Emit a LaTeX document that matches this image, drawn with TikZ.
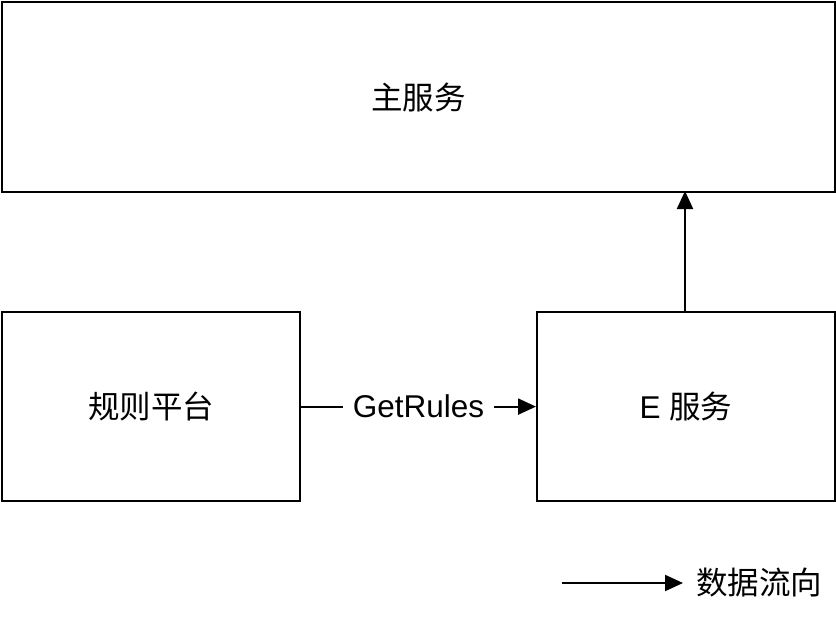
\documentclass[tikz,border=0pt]{standalone}
\usepackage{fontspec}
\setmainfont{Liberation Sans}
\newfontfamily\cjk{Noto Sans CJK SC}
\usetikzlibrary{arrows.meta}
\begin{document}
\begin{tikzpicture}[x=1pt,y=-1pt,
  box/.style={draw=black,line width=2.2pt,inner sep=0pt,anchor=north west},
  lbl/.style={font=\fontsize{31.5}{36}\selectfont},
  flow/.style={draw=black,line width=2.2pt,-{Triangle[length=18pt,width=16pt]}}]
\useasboundingbox (0,0) rectangle (836,618);
\node[box,minimum width=833pt,minimum height=190pt] (main) at (1,1) {};
\node[lbl] at (main.center) {\cjk 主服务};
\node[box,minimum width=298pt,minimum height=189pt] (rules) at (1,311) {};
\node[lbl] at (rules.center) {\cjk 规则平台};
\node[box,minimum width=298pt,minimum height=189pt] (esvc) at (536,311) {};
\node[lbl] at (esvc.center) {E {\cjk 服务}};
\coordinate (etop) at (685,311);
\coordinate (mbot) at (685,191);
\draw[flow] (etop) -- (mbot);
\draw[flow] (rules.east) -- node[lbl,fill=white,inner xsep=10pt,inner ysep=2pt] (gr) {GetRules} (esvc.west);
\coordinate (lga) at (562,583);
\coordinate (lgb) at (683,583);
\draw[flow] (lga) -- (lgb);
\node[lbl,anchor=west,inner sep=0pt] (legend) at (696,583) {\cjk 数据流向};
\end{tikzpicture}
\end{document}
